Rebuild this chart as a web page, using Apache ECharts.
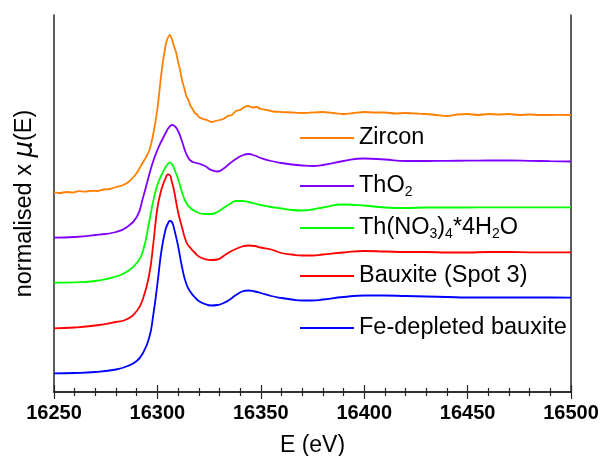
<!DOCTYPE html>
<html>
<head>
<meta charset="utf-8">
<script src="https://cdn.jsdelivr.net/npm/echarts@6/dist/echarts.min.js"></script>
<style>
  html, body { margin: 0; padding: 0; background: #fff; }
  #chart { width: 603px; height: 456px; }
</style>
</head>
<body>
<div id="chart"></div>
<script>
// ---- Data (energy in eV, normalised x mu(E) with vertical offsets) ----
const energies = [16250, 16260, 16270, 16280, 16285, 16290, 16293, 16296, 16298, 16300,
  16302, 16304, 16305, 16306, 16307, 16308, 16310, 16312, 16314, 16316,
  16318, 16320, 16323, 16326, 16329, 16332, 16335, 16338, 16341, 16344,
  16347, 16350, 16355, 16360, 16365, 16370, 16375, 16380, 16390, 16400,
  16410, 16420, 16430, 16440, 16450, 16460, 16470, 16480, 16490, 16500];

const feDepleted = [0.187, 0.19, 0.20, 0.225, 0.255, 0.31, 0.39, 0.54, 0.77, 1.08,
  1.42, 1.63, 1.68, 1.71, 1.70, 1.64, 1.46, 1.24, 1.08, 1.00,
  0.95, 0.91, 0.88, 0.865, 0.87, 0.89, 0.925, 0.97, 1.005, 1.015,
  1.005, 0.99, 0.96, 0.94, 0.925, 0.915, 0.915, 0.925, 0.95, 0.965,
  0.965, 0.96, 0.955, 0.95, 0.945, 0.945, 0.945, 0.945, 0.945, 0.943];

const bauxite = [0.637, 0.645, 0.665, 0.70, 0.725, 0.81, 0.93, 1.17, 1.48, 1.84,
  2.03, 2.14, 2.175, 2.17, 2.10, 2.02, 1.80, 1.64, 1.50, 1.44,
  1.395, 1.355, 1.33, 1.32, 1.325, 1.36, 1.40, 1.43, 1.455, 1.465,
  1.46, 1.445, 1.425, 1.39, 1.375, 1.365, 1.365, 1.375, 1.395, 1.41,
  1.405, 1.40, 1.40, 1.395, 1.395, 1.40, 1.40, 1.397, 1.397, 1.397];

const thNitrate = [1.093, 1.097, 1.11, 1.155, 1.20, 1.29, 1.41, 1.70, 1.91, 2.07,
  2.17, 2.25, 2.28, 2.293, 2.28, 2.24, 2.13, 1.99, 1.89, 1.84,
  1.81, 1.79, 1.78, 1.78, 1.80, 1.84, 1.88, 1.91, 1.91, 1.90,
  1.885, 1.87, 1.85, 1.835, 1.82, 1.815, 1.825, 1.845, 1.875, 1.865,
  1.845, 1.84, 1.845, 1.845, 1.845, 1.847, 1.847, 1.847, 1.847, 1.847];

const thO2 = [1.543, 1.55, 1.57, 1.60, 1.645, 1.75, 1.94, 2.17, 2.31, 2.42,
  2.51, 2.59, 2.63, 2.655, 2.67, 2.665, 2.61, 2.50, 2.38, 2.315,
  2.295, 2.285, 2.26, 2.22, 2.205, 2.235, 2.285, 2.33, 2.365, 2.38,
  2.365, 2.34, 2.31, 2.29, 2.275, 2.265, 2.26, 2.27, 2.31, 2.335,
  2.325, 2.31, 2.31, 2.312, 2.313, 2.315, 2.315, 2.312, 2.308, 2.305];

const zirconE = [16250, 16253, 16256, 16259, 16262, 16265, 16268, 16271, 16274, 16277,
  16280, 16282, 16284, 16286, 16288, 16290, 16292, 16294, 16296, 16298,
  16300, 16302, 16304, 16305, 16306, 16307, 16308, 16309, 16310, 16311,
  16312, 16313, 16314, 16315, 16316, 16317, 16318, 16319, 16320, 16322,
  16324, 16326, 16328, 16330, 16332, 16334, 16336, 16338, 16340, 16342,
  16344, 16346, 16348, 16350, 16353, 16356, 16360, 16365, 16370, 16375,
  16380, 16385, 16390, 16395, 16400, 16405, 16410, 16415, 16420, 16425,
  16430, 16435, 16440, 16445, 16450, 16455, 16460, 16465, 16470, 16475,
  16480, 16485, 16490, 16495, 16500];
const zirconY = [1.997, 1.99, 2.00, 1.995, 2.008, 2.003, 2.012, 2.01, 2.025, 2.03,
  2.05, 2.06, 2.075, 2.10, 2.14, 2.19, 2.26, 2.33, 2.41, 2.58,
  2.83, 3.20, 3.47, 3.54, 3.57, 3.53, 3.46, 3.40, 3.30, 3.22,
  3.11, 3.04, 2.96, 2.92, 2.86, 2.83, 2.79, 2.78, 2.75, 2.73,
  2.72, 2.70, 2.71, 2.72, 2.73, 2.76, 2.77, 2.81, 2.82, 2.85,
  2.86, 2.845, 2.85, 2.83, 2.82, 2.805, 2.80, 2.795, 2.79, 2.795,
  2.80, 2.79, 2.78, 2.79, 2.80, 2.795, 2.795, 2.785, 2.79, 2.785,
  2.78, 2.77, 2.76, 2.775, 2.78, 2.77, 2.78, 2.775, 2.78, 2.77,
  2.775, 2.77, 2.77, 2.772, 2.77];

const seriesNames = ['Zircon', 'ThO2', 'Th(NO3)4*4H2O', 'Bauxite (Spot 3)', 'Fe-depleted bauxite'];
const legendLabels = ['Zircon', 'ThO{s|2}', 'Th(NO{s|3}){s|4}*4H{s|2}O', 'Bauxite (Spot 3)', 'Fe-depleted bauxite'];
const colors = ['#ff8000', '#8000ff', '#00ff00', '#ff0000', '#0000ff'];

// ---- Build chart ----
const zip = (xs, ys) => xs.map((x, i) => [x, ys[i]]);
const seriesData = [
  zip(zirconE, zirconY),
  zip(energies, thO2),
  zip(energies, thNitrate),
  zip(energies, bauxite),
  zip(energies, feDepleted)
];

const frameColor = '#262626';
const FONT = 'Liberation Sans, Arial, sans-serif';
const legendCenters = [138, 186, 228, 276, 328];

const chart = echarts.init(document.getElementById('chart'), null, { renderer: 'canvas' });

const legends = seriesNames.map((name, i) => ({
  data: [name],
  left: 300,
  top: legendCenters[i] - 14,
  padding: 0,
  itemWidth: 54,
  itemHeight: 2,
  icon: 'rect',
  selectedMode: false,
  formatter: () => legendLabels[i],
  textStyle: {
    color: '#000',
    fontFamily: FONT,
    fontSize: 23.5,
    lineHeight: 28,
    rich: {
      s: { fontSize: 14, lineHeight: 28, padding: [13, 0, 0, 0], fontFamily: FONT, color: '#000' }
    }
  }
}));

const option = {
  animation: false,
  backgroundColor: '#fff',
  color: colors,
  grid: { left: 54, right: 32, top: 15, bottom: 64, containLabel: false, outerBoundsMode: 'none' },
  legend: legends,
  xAxis: [{
    type: 'value',
    position: 'bottom',
    min: 16250, max: 16500, interval: 50,
    name: 'E (eV)',
    nameLocation: 'middle',
    nameGap: 42,
    nameTextStyle: { fontSize: 23, color: '#000', fontFamily: FONT },
    axisLine: { show: true, lineStyle: { color: frameColor, width: 1.5 } },
    axisTick: { show: true, inside: true, length: 7, lineStyle: { color: frameColor, width: 1.2 } },
    minorTick: { show: true, splitNumber: 5, length: 4, lineStyle: { color: frameColor, width: 1.2 } },
    axisLabel: {
      show: true, margin: 11, fontSize: 20, fontWeight: 'bold', color: '#000',
      fontFamily: FONT,
      formatter: v => String(v)
    },
    splitLine: { show: false }
  }, {
    type: 'value',
    position: 'top',
    min: 16250, max: 16500, interval: 50,
    axisLine: { show: true, lineStyle: { color: frameColor, width: 1.5 } },
    axisTick: { show: true, inside: true, length: 7, lineStyle: { color: frameColor, width: 1.2 } },
    minorTick: { show: true, splitNumber: 5, length: 4, lineStyle: { color: frameColor, width: 1.2 } },
    axisLabel: { show: false },
    splitLine: { show: false }
  }],
  yAxis: [{
    type: 'value',
    position: 'left',
    min: 0, max: 3.77,
    name: 'normalised x {mu|μ}(E)',
    nameLocation: 'middle',
    nameGap: 16,
    nameRotate: 90,
    nameTextStyle: {
      fontSize: 23.5, color: '#000', fontFamily: FONT,
      rich: { mu: { fontSize: 26, fontStyle: 'italic', color: '#000', fontFamily: 'DejaVu Sans, sans-serif' } }
    },
    axisLine: { show: true, lineStyle: { color: frameColor, width: 1.5 } },
    axisTick: { show: false },
    axisLabel: { show: false },
    splitLine: { show: false }
  }, {
    type: 'value',
    position: 'right',
    min: 0, max: 3.77,
    axisLine: { show: true, lineStyle: { color: frameColor, width: 1.5 } },
    axisTick: { show: false },
    axisLabel: { show: false },
    splitLine: { show: false }
  }],
  series: seriesNames.map((name, i) => ({
    name: name,
    type: 'line',
    xAxisIndex: 0,
    yAxisIndex: 0,
    data: seriesData[i],
    showSymbol: false,
    symbol: 'none',
    smooth: i === 0 ? 0.2 : 0.5,
    lineStyle: { color: colors[i], width: 1.8 },
    itemStyle: { color: colors[i] }
  }))
};

chart.setOption(option);
</script>
</body>
</html>
